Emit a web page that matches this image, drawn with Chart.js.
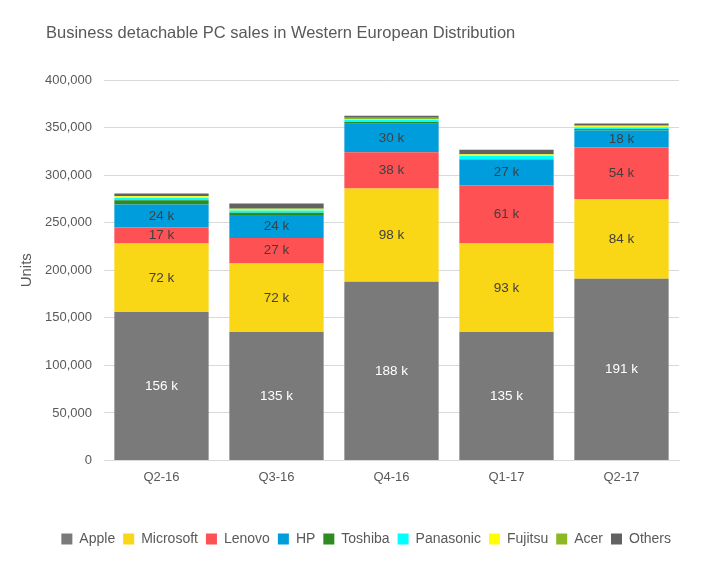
<!DOCTYPE html>
<html>
<head>
<meta charset="utf-8">
<script src="https://cdn.jsdelivr.net/npm/chart.js@4.4.1/dist/chart.umd.min.js"></script>
<style>
  html, body { margin: 0; padding: 0; background: #fff; }
  #wrap { width: 702px; height: 563px; }
</style>
</head>
<body>
<div id="wrap"><canvas id="salesChart" width="702" height="563"></canvas></div>
<script>
var quarters = ["Q2-16", "Q3-16", "Q4-16", "Q1-17", "Q2-17"];

var apple     = [156000, 135000, 188000, 135000, 191000];
var microsoft = [72000, 72000, 98000, 93000, 84000];
var lenovo    = [17000, 27000, 38000, 61000, 54000];
var hp        = [24000, 24000, 30000, 27000, 18000];
var toshiba   = [4500, 2500, 1800, 300, 1400];
var panasonic = [2500, 2400, 2400, 4000, 1700];
var fujitsu   = [1700, 1000, 500, 1500, 1400];
var acer      = [300, 1000, 1600, 300, 1000];
var others    = [2800, 5300, 2100, 4500, 1700];

var yTicks = [0, 50000, 100000, 150000, 200000, 250000, 300000, 350000, 400000];

var chartTitle = 'Business detachable PC sales in Western European Distribution';

var fontName = "'Liberation Sans', Arial, sans-serif";

function makeSet(label, data, color) {
    return {
        label: label,
        data: data,
        backgroundColor: color,
        borderWidth: 0,
        categoryPercentage: 0.82,
        barPercentage: 1.0
    };
}

// value labels in the big segments (no datalabels plugin here)
var segmentLabels = {
    id: 'segmentLabels',
    afterDatasetsDraw: function (chart) {
        var ctx = chart.ctx;
        ctx.save();
        ctx.font = "13.5px " + fontName;
        ctx.textAlign = 'center';
        ctx.textBaseline = 'middle';
        for (var d = 0; d < 4; d++) {
            var meta = chart.getDatasetMeta(d);
            for (var i = 0; i < meta.data.length; i++) {
                var bar = meta.data[i];
                var val = chart.data.datasets[d].data[i];
                ctx.fillStyle = d === 0 ? '#ffffff' : '#404040';
                ctx.fillText(Math.round(val / 1000) + ' k', bar.x, (bar.y + bar.base) / 2);
            }
        }
        ctx.restore();
    }
};

// title sits further left than the plot, so draw it by hand
var leftTitle = {
    id: 'leftTitle',
    afterDraw: function (chart) {
        var ctx = chart.ctx;
        ctx.save();
        ctx.font = "16.5px " + fontName;
        ctx.fillStyle = '#595959';
        ctx.textAlign = 'left';
        ctx.textBaseline = 'middle';
        ctx.fillText(chartTitle, 46, 33);
        ctx.restore();
    }
};

function makeChart() {
    var canvas = document.getElementById("salesChart");

    var datasets = [
        makeSet("Apple", apple, '#7a7a7a'),
        makeSet("Microsoft", microsoft, '#f9d616'),
        makeSet("Lenovo", lenovo, '#fd5154'),
        makeSet("HP", hp, '#009ddc'),
        makeSet("Toshiba", toshiba, '#2e8b1f'),
        makeSet("Panasonic", panasonic, '#00ffff'),
        makeSet("Fujitsu", fujitsu, '#ffff00'),
        makeSet("Acer", acer, '#8cb921'),
        makeSet("Others", others, '#626262')
    ];

    new Chart(canvas, {
        type: 'bar',
        data: { labels: quarters, datasets: datasets },
        plugins: [segmentLabels, leftTitle],
        options: {
            responsive: false,
            animation: false,
            layout: { padding: { left: 14, right: 23, top: 80, bottom: 7 } },
            plugins: {
                title: { display: false },
                legend: {
                    position: 'bottom',
                    align: 'end',
                    labels: {
                        color: '#595959',
                        font: { family: fontName, size: 14 },
                        boxWidth: 11,
                        boxHeight: 11,
                        padding: 8
                    }
                },
                tooltip: { enabled: false }
            },
            scales: {
                x: {
                    stacked: true,
                    grid: { display: false, drawTicks: false },
                    border: { display: true, color: '#d9d9d9' },
                    ticks: {
                        color: '#595959',
                        font: { family: fontName, size: 13 },
                        padding: 9
                    },
                    afterFit: function (s) { s.height = 63.5; }
                },
                y: {
                    stacked: true,
                    min: 0,
                    max: 400000,
                    afterBuildTicks: function (s) {
                        s.ticks = yTicks.map(function (v) { return { value: v }; });
                    },
                    afterFit: function (s) { s.width = 90; },
                    grid: { color: '#d9d9d9', drawTicks: false },
                    border: { display: false },
                    ticks: {
                        color: '#595959',
                        font: { family: fontName, size: 13 },
                        padding: 12,
                        callback: function (v) { return v.toLocaleString('en-US'); }
                    },
                    title: {
                        display: true,
                        text: 'Units',
                        color: '#595959',
                        font: { family: fontName, size: 15 },
                        padding: { top: 4, bottom: 4 }
                    }
                }
            }
        }
    });
}

document.addEventListener('DOMContentLoaded', makeChart);
</script>
</body>
</html>
